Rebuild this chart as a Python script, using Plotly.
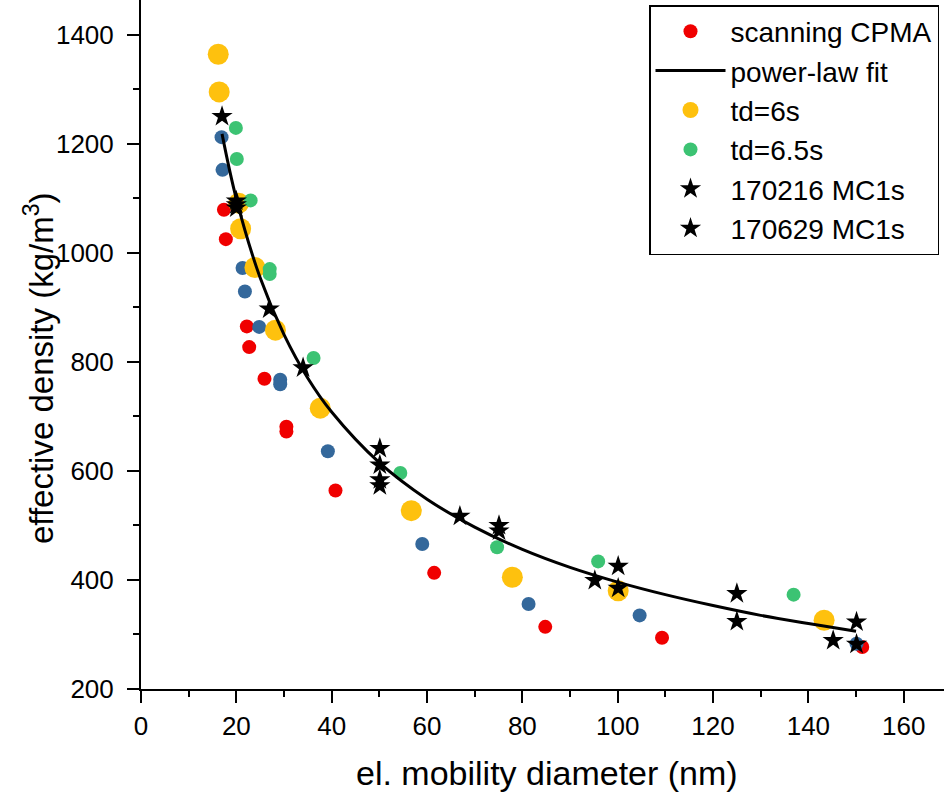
import plotly.graph_objects as go

# ---- data ----
cpma_x = [17.4, 17.8, 22.2, 22.7, 25.9, 30.5, 30.5, 40.8, 61.5, 84.8, 109.3, 151.3]
cpma_y = [1079, 1025, 865, 827, 769, 681, 672, 564, 413, 314, 294, 277]

blue_x = [16.9, 17.1, 21.3, 21.8, 24.8, 29.2, 29.2, 39.2, 59.0, 81.3, 104.6, 150.1]
blue_y = [1212, 1152, 972, 929, 864, 767, 759, 636, 466, 356, 335, 283]

td6_x = [16.2, 16.4, 20.5, 20.9, 23.9, 28.2, 37.6, 56.7, 77.9, 100.1, 143.3]
td6_y = [1364, 1295, 1091, 1044, 973, 858, 715, 527, 405, 380, 326]

td65_x = [19.9, 20.1, 23.0, 27.0, 27.0, 36.2, 54.4, 74.7, 95.9, 136.9]
td65_y = [1229, 1172, 1096, 970, 961, 807, 596, 460, 434, 373]

mc1_x = [17.0, 20.0, 20.0, 26.9, 34.0, 50.1, 50.1, 66.9, 75.1, 95.2, 100.1, 125.0, 150.1]
mc1_y = [1250, 1095, 1088, 897, 789, 641, 611, 517, 500, 399, 425, 375, 323]

mc2_x = [20.0, 50.1, 50.1, 75.1, 100.1, 125.0, 145.2, 150.1]
mc2_y = [1082, 584, 573, 490, 385, 324, 289, 282]

fit_x = [17, 20, 25, 30, 35, 40, 50, 60, 70, 80, 90, 100, 110, 120, 130, 140, 150]
fit_y = [1218, 1099, 954, 850, 770, 708, 615, 548, 497, 456, 423, 396, 373, 353, 335, 320, 306]

x_ticks = [0, 20, 40, 60, 80, 100, 120, 140, 160]
y_ticks = [200, 400, 600, 800, 1000, 1200, 1400]

FONT = "Liberation Sans, Arial, sans-serif"
RED = "#F00000"
BLUE = "#34689B"
YELLOW = "#FEC10E"
GREEN = "#3CC373"

fig = go.Figure()
fig.add_trace(go.Scatter(x=cpma_x, y=cpma_y, mode="markers", name="scanning CPMA",
                         marker=dict(color=RED, size=14, line=dict(width=0)), legendrank=1))
fig.add_trace(go.Scatter(x=blue_x, y=blue_y, mode="markers", name="blue", showlegend=False,
                         marker=dict(color=BLUE, size=14, line=dict(width=0))))
fig.add_trace(go.Scatter(x=td6_x, y=td6_y, mode="markers", name="td=6s",
                         marker=dict(color=YELLOW, size=21, line=dict(width=0)), legendrank=3))
fig.add_trace(go.Scatter(x=td65_x, y=td65_y, mode="markers", name="td=6.5s",
                         marker=dict(color=GREEN, size=14, line=dict(width=0)), legendrank=4))
fig.add_trace(go.Scatter(x=fit_x, y=fit_y, mode="lines", name="power-law fit", line_shape="spline",
                         line=dict(color="black", width=3), legendrank=2))
fig.add_trace(go.Scatter(x=mc1_x, y=mc1_y, mode="markers", name="170216 MC1s",
                         marker=dict(color="black", size=16, symbol="star", line=dict(width=0)), legendrank=5))
fig.add_trace(go.Scatter(x=mc2_x, y=mc2_y, mode="markers", name="170629 MC1s",
                         marker=dict(color="black", size=16, symbol="star", line=dict(width=0)), legendrank=6))

L, R, T, B = 141, 0, 0, 103
W, H = 944, 792
pw, ph = W - L - R, H - T - B
xmax = pw / 4.767
ymax = 200 + ph / 0.5453

axis_common = dict(showgrid=False, zeroline=False, showline=True, linecolor="black", linewidth=2,
                   ticks="outside", ticklen=12, tickwidth=2, tickcolor="black",
                   tickfont=dict(family=FONT, size=26, color="black"))

fig.update_xaxes(range=[0, xmax], tickvals=x_ticks, ticktext=[str(v) for v in x_ticks],
                 minor=dict(dtick=10, tick0=0, ticks="outside", ticklen=6, tickwidth=2, tickcolor="black"),
                 ticklabelstandoff=1, **axis_common)
fig.update_yaxes(range=[200, ymax], tickvals=y_ticks, ticktext=[str(v) for v in y_ticks],
                 minor=dict(dtick=100, tick0=0, ticks="outside", ticklen=6, tickwidth=2, tickcolor="black"),
                 ticklabelstandoff=8, **axis_common)

fig.add_annotation(text="el. mobility diameter (nm)", xref="paper", yref="paper",
                   x=(547 - L) / pw, y=-(773 - ph) / ph, xanchor="center", yanchor="middle",
                   showarrow=False, font=dict(family=FONT, size=34, color="black"))
fig.add_annotation(text="effective density (kg/m<sup>3</sup>)", xref="paper", yref="paper",
                   x=(39 - L) / pw, y=1 - 368 / ph, xanchor="center", yanchor="middle", textangle=-90,
                   showarrow=False, font=dict(family=FONT, size=33, color="black"))

fig.update_layout(
    width=W, height=H, margin=dict(l=L, r=R, t=T, b=B, autoexpand=False),
    plot_bgcolor="white", paper_bgcolor="white",
    font=dict(family=FONT, color="black"),
    legend=dict(x=(649 - L) / pw, y=1 - 5 / ph, xanchor="left", yanchor="top",
                bgcolor="white", bordercolor="black", borderwidth=1.5,
                font=dict(family=FONT, size=28, color="black"),
                itemwidth=70, tracegroupgap=0),
)

fig.write_html("out.html")
